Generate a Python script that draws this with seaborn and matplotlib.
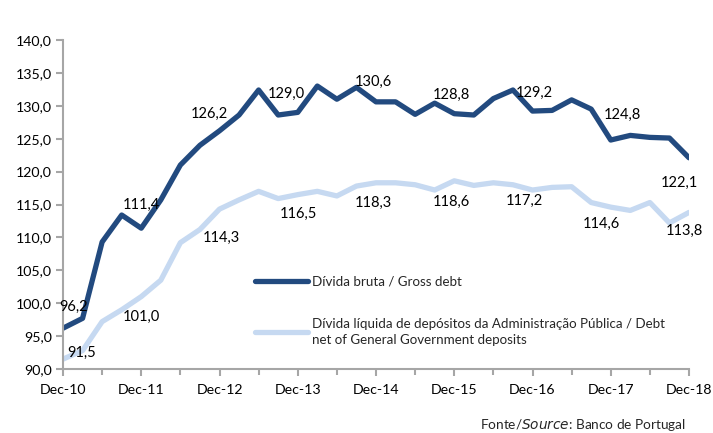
import numpy as np
import pandas as pd
import matplotlib
matplotlib.use("Agg")
import matplotlib.pyplot as plt
import seaborn as sns
from matplotlib.ticker import FuncFormatter, MultipleLocator

# quarterly values, Dec-10 .. Dec-18
quarters = list(range(33))
gross_debt = [96.2, 97.7, 109.3, 113.4, 111.4, 115.7, 121.0, 124.0, 126.2,
              128.6, 132.4, 128.6, 129.0, 133.0, 131.0, 132.8, 130.6,
              130.6, 128.7, 130.4, 128.8, 128.6, 131.1, 132.4, 129.2,
              129.3, 130.9, 129.5, 124.8, 125.5, 125.2, 125.1, 122.1]
net_debt = [91.5, 92.8, 97.2, 99.0, 101.0, 103.5, 109.2, 111.2, 114.3,
            115.7, 117.0, 115.9, 116.5, 117.0, 116.3, 117.8, 118.3,
            118.3, 118.0, 117.2, 118.6, 117.9, 118.3, 118.0, 117.2,
            117.6, 117.7, 115.3, 114.6, 114.1, 115.3, 112.2, 113.8]
year_labels = ["Dec-10", "Dec-11", "Dec-12", "Dec-13", "Dec-14",
               "Dec-15", "Dec-16", "Dec-17", "Dec-18"]
gross_name = "Dívida bruta / Gross debt"
net_name = ("Dívida líquida de depósitos da Administração Pública / Debt\n"
            "net of General Government deposits")

# labels (quarter index, value, offset in pixels)
gross_labels = [(0, 96.2, (11, 21)), (4, 111.4, (0, 23)), (8, 126.2, (-10, 17)),
                (12, 129.0, (-11, 18)), (16, 130.6, (-3, 20)), (20, 128.8, (-3, 19)),
                (24, 129.2, (2, 18)), (28, 124.8, (12, 25)), (32, 122.1, (-10, -25))]
net_labels = [(0, 91.5, (19, 6)), (4, 101.0, (0, -20)), (8, 114.3, (2, -29)),
              (12, 116.5, (1, -19)), (16, 118.3, (-3, -20)), (20, 118.6, (-3, -21)),
              (24, 117.2, (-8, -11)), (28, 114.6, (-9, -17)), (32, 113.8, (-5, -18))]

df = pd.DataFrame({
    "q": quarters * 2,
    "value": gross_debt + net_debt,
    "series": [gross_name] * len(quarters) + [net_name] * len(quarters),
})

sns.set_theme(style="white")
plt.rcParams["font.family"] = ["Lato", "DejaVu Sans"]

dark = "#224a7f"
light = "#c6d9f1"
grey = "#a6a6a6"

fig = plt.figure(figsize=(7.13, 4.33), dpi=100)
ax = fig.add_axes([63 / 713, 64 / 433, 626 / 713, 329 / 433])

sns.lineplot(data=df, x="q", y="value", hue="series",
             palette={gross_name: dark, net_name: light},
             linewidth=3.8, ax=ax, legend=True)

ax.set_xlim(0, 32)
ax.set_ylim(90, 140)
ax.yaxis.set_major_locator(MultipleLocator(5))
ax.yaxis.set_major_formatter(FuncFormatter(lambda v, p: f"{v:.1f}".replace(".", ",")))
ax.set_xticks(range(0, 33, 4))
ax.set_xticklabels(year_labels)
ax.xaxis.set_minor_locator(MultipleLocator(2))
ax.set_xlabel("")
ax.set_ylabel("")

for s in ["top", "right"]:
    ax.spines[s].set_visible(False)
for s in ["left", "bottom"]:
    ax.spines[s].set_color(grey)
    ax.spines[s].set_linewidth(1.5)
ax.tick_params(axis="both", which="both", direction="out", color=grey,
               width=1.5, labelsize=10.2, labelcolor="black")
ax.tick_params(axis="y", which="major", length=5, left=True, pad=3)
ax.tick_params(axis="x", which="major", length=5, bottom=True, pad=6)
ax.tick_params(axis="x", which="minor", length=4, bottom=True)

for q, v, off in gross_labels + net_labels:
    ax.annotate(f"{v:.1f}".replace(".", ","), (q, v), xytext=off,
                textcoords="offset pixels", ha="center", va="center",
                fontsize=10.5, color="black")

leg = ax.legend(loc="upper left", bbox_to_anchor=(0.287, 0.32), frameon=False,
                fontsize=9.6, handlelength=4.0, labelspacing=2.3,
                handletextpad=0.3)
for line in leg.get_lines():
    line.set_linewidth(3.8)
for t in leg.get_texts():
    t.set_linespacing(1.35)

fig.text(0.962, 0.0, "Fonte/$\\it{Source}$: Banco de Portugal", ha="right",
         va="bottom", fontsize=9.8)

fig.savefig("out.png", dpi=100)
